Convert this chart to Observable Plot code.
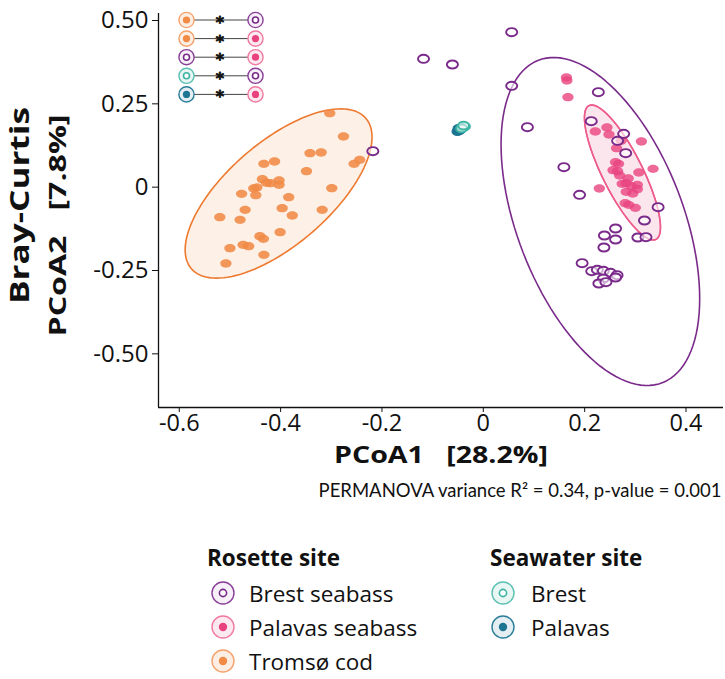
<!DOCTYPE html>
<html><head><meta charset="utf-8">
<script src="https://cdn.jsdelivr.net/npm/d3@7"></script>
<script src="https://cdn.jsdelivr.net/npm/@observablehq/plot@0.6"></script>
<style>
body{margin:0;background:#fff;font-family:"Open Sans",sans-serif;}
#wrap{position:relative;width:725px;height:679px;overflow:hidden;}
svg text{white-space:pre;}
.lg{position:absolute;font-family:"Open Sans",sans-serif;color:#111;}
.lgTitle{font-weight:bold;font-size:22.5px;line-height:28px;margin-bottom:4px;}
.lgRow{display:flex;align-items:center;font-size:22.5px;height:34px;}
</style></head><body><div id="wrap"></div>
<script>
// ---------------- data ----------------
const groups = ["Brest seabass","Palavas seabass","Tromsø cod","Brest","Palavas"];
const legendSection = ["Rosette site","Rosette site","Rosette site","Seawater site","Seawater site"];
const groupColor = ["#7A2A8A","#E8437E","#F08A45","#3DB4A3","#1E7592"];

const tromsoX = [-0.303,-0.276,-0.342,-0.320,-0.255,-0.244,-0.433,-0.412,-0.349,-0.436,-0.428,-0.420,-0.403,-0.403,-0.447,-0.453,-0.449,-0.299,-0.384,-0.477,-0.397,-0.377,-0.318,-0.470,-0.520,-0.480,-0.401,-0.441,-0.434,-0.500,-0.474,-0.463,-0.433,-0.508];
const tromsoY = [0.222,0.152,0.102,0.104,0.070,0.082,0.070,0.077,0.048,0.024,0.013,0.012,0.020,0.007,-0.001,-0.004,-0.024,-0.003,-0.030,-0.020,-0.063,-0.085,-0.068,-0.068,-0.090,-0.098,-0.135,-0.147,-0.155,-0.183,-0.173,-0.177,-0.203,-0.229];

const palSeabassX = [0.164,0.165,0.167,0.221,0.244,0.248,0.272,0.312,0.263,0.261,0.267,0.256,0.265,0.307,0.335,0.229,0.274,0.282,0.292,0.304,0.304,0.282,0.295,0.280,0.287,0.300,0.269,0.286];
const palSeabassY = [0.329,0.320,0.270,0.167,0.179,0.158,0.139,0.137,0.117,0.075,0.070,0.051,0.048,0.044,0.055,-0.004,0.010,0.012,0.003,0.007,-0.006,-0.014,-0.019,-0.048,-0.053,-0.062,0.035,0.026];

const brestSeabassX = [-0.218,-0.118,-0.061,0.056,0.056,0.087,0.227,0.213,0.277,0.265,0.281,0.159,0.190,0.345,0.318,0.261,0.239,0.261,0.238,0.305,0.321,0.195,0.214,0.225,0.237,0.251,0.264,0.261,0.237,0.228,0.242];
const brestSeabassY = [0.108,0.385,0.368,0.465,0.304,0.180,0.285,0.198,0.160,0.139,0.102,0.060,-0.023,-0.060,-0.100,-0.124,-0.145,-0.157,-0.181,-0.151,-0.150,-0.228,-0.252,-0.248,-0.251,-0.257,-0.264,-0.271,-0.274,-0.289,-0.285];

const brestWaterX = [-0.041,-0.037,-0.043,-0.039];
const brestWaterY = [0.179,0.182,0.176,0.185];
const palWaterX = [-0.051,-0.047,-0.045,-0.049];
const palWaterY = [0.167,0.170,0.173,0.176];

// 95% ellipse statistics (centre, half extents, correlation)
const ellipseGroup = ["Tromsø cod","Brest seabass","Palavas seabass"];
const ellipseCx = [-0.404,0.231,0.2746];
const ellipseCy = [-0.019,-0.103,0.044];
const ellipseHalfX = [0.1844,0.196,0.075];
const ellipseHalfY = [0.254,0.492,0.2025];
const ellipseCorr = [0.665,-0.47,-0.81];
const ellipseFill = ["#FDF0E6","none","#FCE6EE"];
const ellipseStroke = ["#EE7A30","#7A2A8A","#EE5C8C"];

// pairwise significance annotation
const pairA = ["Tromsø cod","Tromsø cod","Brest seabass","Brest","Palavas"];
const pairB = ["Brest seabass","Palavas seabass","Palavas seabass","Brest seabass","Palavas seabass"];
const pairSig = ["*","*","*","*","*"];

const xTicks = [-0.6,-0.4,-0.2,0,0.2,0.4];
const xTickLabels = ["-0.6","-0.4","-0.2","0","0.2","0.4"];
const yTicks = [0.5,0.25,0,-0.25,-0.5];
const yTickLabels = ["0.50","0.25","0","-0.25","-0.50"];
const xDomain = [-0.641,0.474];
const yDomain = [-0.661,0.521];

const xTitle = "PCoA1   [28.2%]";
const yTitle1 = "Bray-Curtis";
const yTitle2 = "PCoA2   [7.8%]";
const caption = "PERMANOVA variance R² = 0.34, p-value = 0.001";

// ---------------- build ----------------
const pts = (xs, ys, g) => xs.map((x,i)=>({x, y:ys[i], g}));
const tromso = pts(tromsoX, tromsoY, "Tromsø cod");
const palSea = pts(palSeabassX, palSeabassY, "Palavas seabass");
const brestSea = pts(brestSeabassX, brestSeabassY, "Brest seabass");
const brestW = pts(brestWaterX, brestWaterY, "Brest");
const palW = pts(palWaterX, palWaterY, "Palavas");

const ell = ellipseGroup.map((g,k)=>{
  const d = Math.acos(ellipseCorr[k]);
  return d3.range(0, 121).map(j=>{
    const t = j/120*2*Math.PI;
    return {g, x: ellipseCx[k] + ellipseHalfX[k]*Math.cos(t), y: ellipseCy[k] + ellipseHalfY[k]*Math.cos(t - d)};
  });
});

const oval = {draw(ctx, size){
  const r = Math.sqrt(size/Math.PI), rx = r*1.18, ry = r*0.86, k = 0.5523;
  ctx.moveTo(rx,0);
  ctx.bezierCurveTo(rx, ry*k, rx*k, ry, 0, ry);
  ctx.bezierCurveTo(-rx*k, ry, -rx, ry*k, -rx, 0);
  ctx.bezierCurveTo(-rx, -ry*k, -rx*k, -ry, 0, -ry);
  ctx.bezierCurveTo(rx*k, -ry, rx, -ry*k, rx, 0);
  ctx.closePath();
}};

const col = g => groupColor[groups.indexOf(g)];

const ellMarks = ell.map((e,k)=>Plot.line(e, {x:"x", y:"y", curve:"linear-closed", fill: ellipseFill[k], stroke: ellipseStroke[k], strokeWidth: 1.6}));

const chart = Plot.plot({
  width: 725, height: 505,
  marginLeft: 158, marginRight: 2, marginTop: 13, marginBottom: 98,
  x: {domain: xDomain}, y: {domain: yDomain},
  style: {fontFamily: "Open Sans", color: "#111", background: "transparent", overflow: "visible"},
  marks: [
    ellMarks[0], ellMarks[2],
    Plot.dot(tromso, {x:"x", y:"y", r:4.8, symbol: oval, fill: col("Tromsø cod"), fillOpacity: 0.88}),
    Plot.dot(palSea, {x:"x", y:"y", r:4.8, symbol: oval, fill: col("Palavas seabass"), fillOpacity: 0.8}),
    Plot.line(ell[2], {x:"x", y:"y", curve:"linear-closed", stroke: ellipseStroke[2], strokeWidth: 1.4}),
    ellMarks[1],
    Plot.dot(brestSea, {x:"x", y:"y", r:4.7, symbol: oval, fill: "white", fillOpacity: 0.6, stroke: col("Brest seabass"), strokeWidth: 1.9}),
    Plot.dot(palW, {x:"x", y:"y", r:4.6, symbol: oval, fill: col("Palavas"), stroke: col("Palavas"), strokeWidth: 1.2}),
    Plot.dot(brestW, {x:"x", y:"y", r:4.6, symbol: oval, fill: "white", fillOpacity: 0.5, stroke: col("Brest"), strokeWidth: 1.8}),
    Plot.ruleX([xDomain[0]], {stroke: "#111", strokeWidth: 1.3}),
    Plot.ruleY([yDomain[0]], {stroke: "#111", strokeWidth: 1.3}),
    Plot.axisX({ticks: xTicks, tickFormat: d => xTickLabels[xTicks.indexOf(d)], tickSize: 5, tickPadding: 2, label: null, fontSize: 23.5, stroke: "#111"}),
    Plot.axisY({ticks: yTicks, tickFormat: d => yTickLabels[yTicks.indexOf(d)], tickSize: 6, tickPadding: 4, label: null, fontSize: 24, stroke: "#111"}),
    Plot.text([xTitle], {frameAnchor: "bottom", textAnchor: "middle", lineAnchor: "middle", dy: 48, fontWeight: "bold", fontSize: 24, fill: "#111", className: "t-xtitle"}),
    Plot.text([caption], {frameAnchor: "bottom-right", textAnchor: "end", lineAnchor: "middle", dy: 84, dx: -2, fontSize: 18.5, fontFamily: "Lato", fill: "#111"}),
    Plot.text([yTitle1], {frameAnchor: "left", textAnchor: "middle", rotate: -90, lineAnchor: "middle", dx: -138, dy: -5, fontWeight: "bold", fontSize: 27, fill: "#111", className: "t-y1"}),
    Plot.text([yTitle2], {frameAnchor: "left", textAnchor: "middle", rotate: -90, lineAnchor: "middle", dx: -100, dy: 15, fontWeight: "bold", fontSize: 24, fill: "#111", className: "t-y2"})
  ]
});
const wrap = document.getElementById("wrap");
wrap.appendChild(chart);
// fit title lengths to the reference
const fit = (cls, len) => d3.select(chart).selectAll("g." + cls + " text").attr("textLength", len).attr("lengthAdjust", "spacingAndGlyphs");
fit("t-xtitle", 214); fit("t-y1", 197); fit("t-y2", 222);

// legend glyph
const isOpen = g => g === "Brest seabass" || g === "Brest";
const lightFill = {"Brest seabass":"#F7F0F8","Palavas seabass":"#FDEAF1","Tromsø cod":"#FDEEE3","Brest":"#E8F6F4","Palavas":"#E4EEF3"};
const outerStroke = {"Brest seabass":"#8A3F99","Palavas seabass":"#F07AA0","Tromsø cod":"#F4A26C","Brest":"#5CC0B2","Palavas":"#2A7E99"};
function glyph(sel, g, cx, cy, R, rIn){
  sel.append("circle").attr("cx",cx).attr("cy",cy).attr("r",R)
    .attr("fill", lightFill[g]).attr("stroke", outerStroke[g]).attr("stroke-width",1.4);
  if (isOpen(g)) sel.append("circle").attr("cx",cx).attr("cy",cy).attr("r",rIn).attr("fill","white").attr("stroke",col(g)).attr("stroke-width",1.6);
  else sel.append("circle").attr("cx",cx).attr("cy",cy).attr("r",rIn+0.6).attr("fill",col(g));
}

// top-left significance annotation
const ann = d3.select(wrap).append("svg").attr("width",100).attr("height",115)
  .style("position","absolute").style("left","174px").style("top","8px").style("overflow","visible");
const rowY = i => 12 + i*18.6;
pairA.forEach((a,i)=>{
  const cy = rowY(i);
  ann.append("line").attr("x1",19).attr("x2",74).attr("y1",cy).attr("y2",cy).attr("stroke","#444").attr("stroke-width",1);
  glyph(ann, a, 12.5, cy, 7.6, 3);
  glyph(ann, pairB[i], 81.5, cy, 7.6, 3);
  ann.append("text").attr("text-anchor","middle").attr("x", 46).attr("y", cy + 8)
    .attr("font-size",15.8).attr("font-weight","bold").attr("font-family","DejaVu Sans")
    .attr("fill","#111").attr("stroke","#111").attr("stroke-width",0.8).attr("stroke-linejoin","round")
    .text(pairSig[i]);
});

// bottom legend
const sections = ["Rosette site","Seawater site"];
const secLeft = [207, 490];
const symLeft = [3, 0];
const symRight = [13, 15];
sections.forEach((s,k)=>{
  const box = d3.select(wrap).append("div").attr("class","lg").style("left",secLeft[k]+"px").style("top","544px");
  box.append("div").attr("class","lgTitle").text(s);
  groups.filter((g,i)=>legendSection[i]===s).forEach(g=>{
    const row = box.append("div").attr("class","lgRow");
    const sv = row.append("svg").attr("width",26).attr("height",26).style("margin-left",symLeft[k]+"px").style("margin-right",symRight[k]+"px");
    glyph(sv, g, 13, 13, 11, 3.6);
    row.append("span").text(g);
  });
});
</script>
</body></html>
